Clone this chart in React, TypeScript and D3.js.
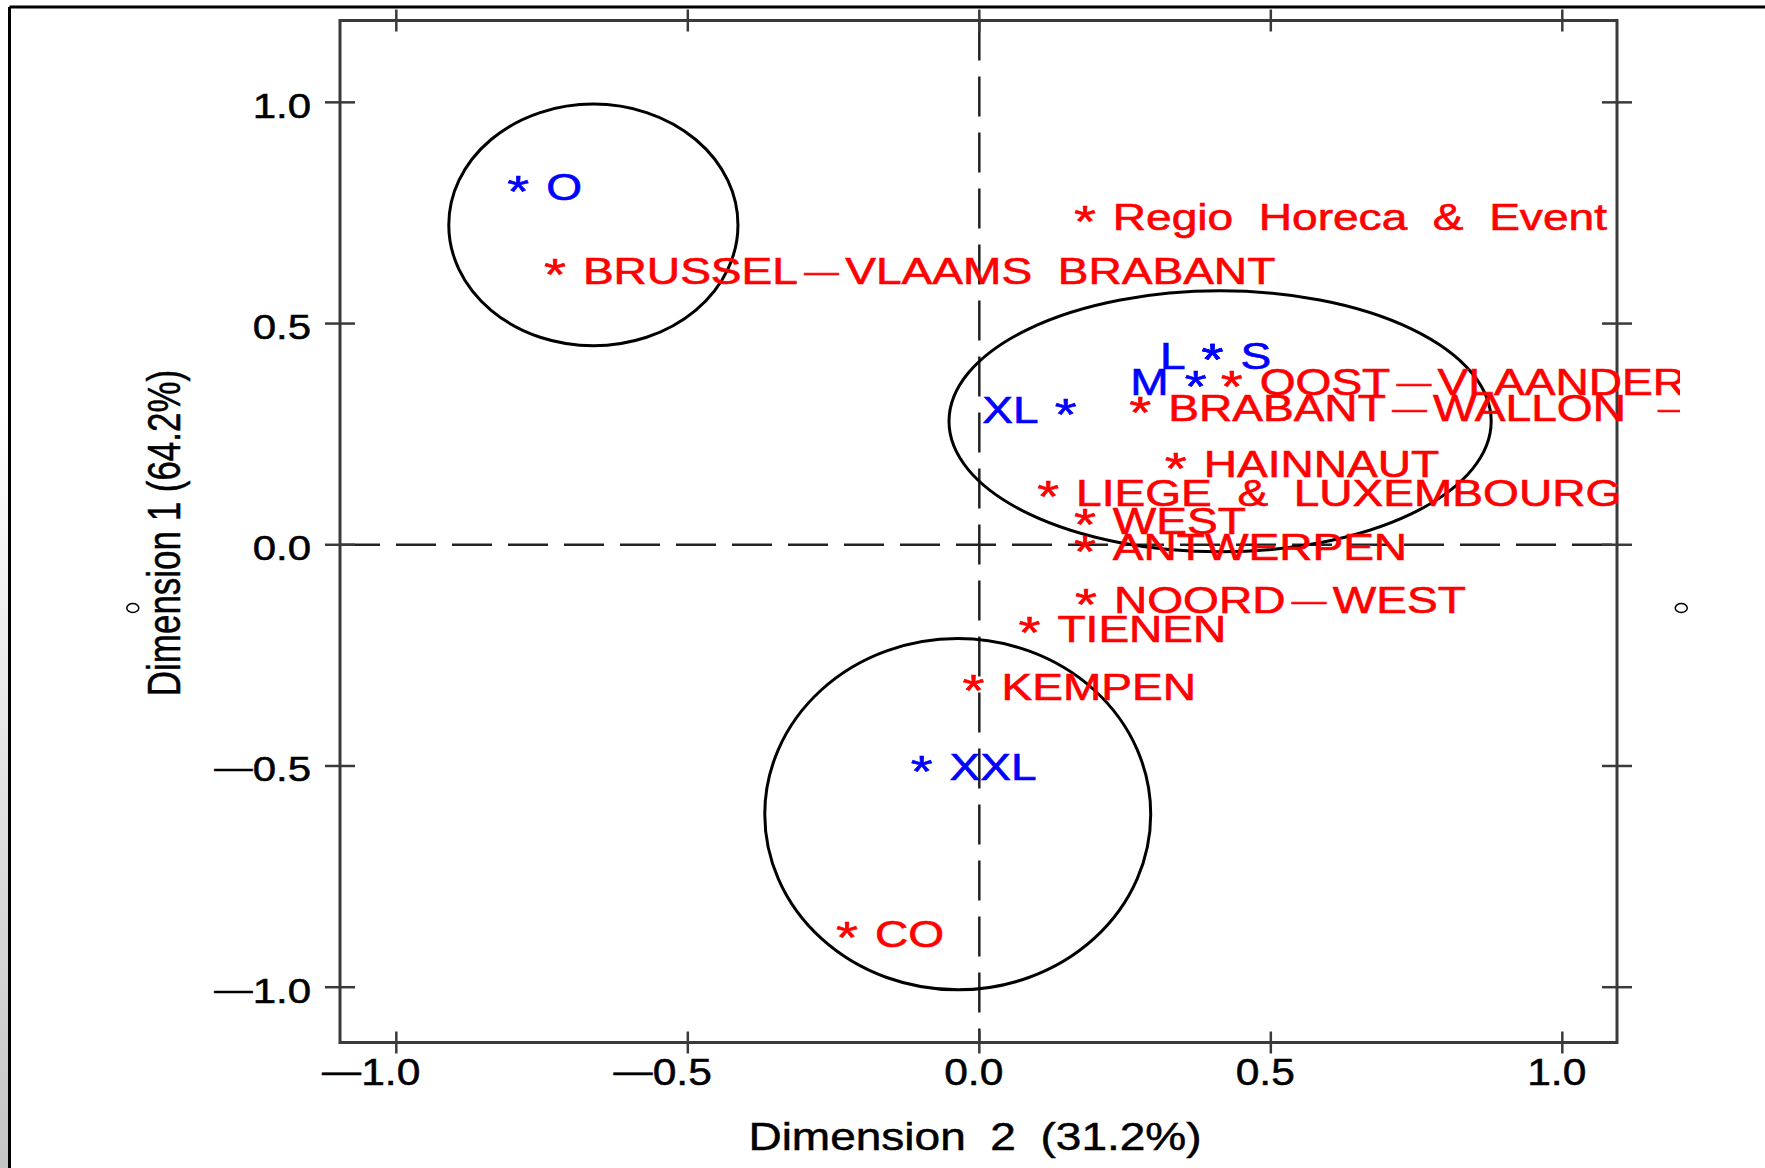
import React from "react";
import * as d3 from "d3";

// ---- data ----
const xTicks = [-1, -0.5, 0, 0.5, 1];
const yTicks = [-1, -0.5, 0, 0.5, 1];

const rowLabels = [
  "BRUSSEL—VLAAMS  BRABANT",
  "Regio  Horeca  &  Event",
  "OOST—VLAANDEREN",
  "BRABANT—WALLON  —  NAMUR",
  "HAINNAUT",
  "LIEGE  &  LUXEMBOURG",
  "WEST",
  "ANTWERPEN",
  "NOORD—WEST",
  "TIENEN",
  "KEMPEN",
  "CO",
];
const rowDim2 = [-0.728, 0.181, 0.433, 0.276, 0.337, 0.118, 0.181, 0.181, 0.183, 0.086, -0.010, -0.227];
const rowDim1 = [0.632, 0.753, 0.380, 0.321, 0.194, 0.130, 0.067, 0.007, -0.113, -0.177, -0.308, -0.867];

const colLabels = ["O", "L", "S", "M", "XL", "XXL"];
const colDim2 = [-0.791, 0.400, 0.400, 0.371, 0.148, -0.099];
const colDim1 = [0.820, 0.440, 0.440, 0.380, 0.316, -0.490];
const colLabelSide = ["right", "left", "right", "left", "left", "right"];

const ellipseCx = [-0.662, 0.413, -0.037];
const ellipseCy = [0.723, 0.279, -0.609];
const ellipseRx = [0.248, 0.465, 0.331];
const ellipseRy = [0.273, 0.295, 0.397];

const strayDim2 = [-1.452, 1.204];
const strayDim1 = [-0.143, -0.143];

const xTitle = "Dimension 2 (31.2%)";
const yTitle = "Dimension 1 (64.2%)";

// ---- layout ----
const W = 1765;
const H = 1168;
const FONT = "'Liberation Sans', Arial, Helvetica, sans-serif";
const SX = 1.28;
const RED = "#ff0000";
const BLUE = "#0000ff";
const AXIS = "#3a3a3a";

const x = d3.scaleLinear().domain([-1.0966, 1.0938]).range([340, 1617]);
const y = d3.scaleLinear().domain([-1.125, 1.185]).range([1042.5, 20.5]);
const fmt = d3.format(".1f");

function dashed(text: string) {
  const parts = text.split("—");
  const out: React.ReactNode[] = [];
  parts.forEach((p, i) => {
    if (i > 0) {
      out.push(
        <tspan key={"d" + i} fontSize={27} dx={5} dy={-3}>
          —
        </tspan>
      );
      out.push(
        <tspan key={"p" + i} dx={5} dy={3}>
          {p}
        </tspan>
      );
    } else {
      out.push(<tspan key={"p" + i}>{p}</tspan>);
    }
  });
  return out;
}

function PointLabel({ px, py, text, color, side }: { px: number; py: number; text: string; color: string; side: string }) {
  const lx = side === "right" ? px + 28 : px - 27;
  return (
    <g>
      <text
        transform={`translate(${px},${py + 25}) scale(${SX},1)`}
        textAnchor="middle"
        fontSize={44}
        fill={color}
        stroke={color}
        strokeWidth={0.6}
        fontFamily={FONT}
      >
        *
      </text>
      <text
        transform={`translate(${lx},${py + 18.5}) scale(${SX},1)`}
        textAnchor={side === "right" ? "start" : "end"}
        fontSize={36}
        fill={color}
        stroke={color}
        strokeWidth={0.6}
        fontFamily={FONT}
        style={{ whiteSpace: "pre" }}
      >
        {dashed(text)}
      </text>
    </g>
  );
}

export default function App() {
  const [x0, x1] = x.range();
  const [y0, y1] = y.range();
  const left = Math.min(x0, x1), right = Math.max(x0, x1);
  const top = Math.min(y0, y1), bottom = Math.max(y0, y1);

  return (
    <svg
      width={W}
      height={H}
      viewBox={`0 0 ${W} ${H}`}
      style={{ position: "absolute", left: 0, top: 0, display: "block", background: "#fff" }}
    >
      <defs>
        <linearGradient id="shade" x1="0" y1="0" x2="0" y2="1">
          <stop offset="0.35" stopColor="#ffffff" />
          <stop offset="1" stopColor="#c4c4c4" />
        </linearGradient>
        <clipPath id="clipLabels">
          <rect x={0} y={0} width={1680} height={H} />
        </clipPath>
      </defs>
      <rect x={0} y={0} width={W} height={H} fill="#fff" />
      <rect x={0} y={0} width={9} height={H} fill="url(#shade)" />
      {/* outer frame */}
      <line x1={9.5} y1={7} x2={W} y2={7} stroke="#000" strokeWidth={3} />
      <line x1={9.5} y1={7} x2={9.5} y2={H} stroke="#000" strokeWidth={3} />

      {/* reference dashed lines */}
      <line x1={x(0)} y1={top} x2={x(0)} y2={bottom} stroke="#222" strokeWidth={2.5} strokeDasharray="40 16" />
      <line x1={left} y1={y(0)} x2={right} y2={y(0)} stroke="#222" strokeWidth={2.5} strokeDasharray="40 16" />

      {/* plot box */}
      <rect x={left} y={top} width={right - left} height={bottom - top} fill="none" stroke={AXIS} strokeWidth={3} />
      {xTicks.map((t) => (
        <g key={"xt" + t}>
          <line x1={x(t)} x2={x(t)} y1={bottom - 11} y2={bottom + 11} stroke={AXIS} strokeWidth={2.5} />
          <line x1={x(t)} x2={x(t)} y1={top - 11} y2={top + 11} stroke={AXIS} strokeWidth={2.5} />
          <text
            transform={`translate(${x(t) + 24},${bottom + 42.5}) scale(1.15,1)`}
            textAnchor="end"
            fontSize={37}
            fill="#000"
            stroke="#000"
            strokeWidth={0.5}
            fontFamily={FONT}
          >
            {t < 0 ? <tspan fontSize={34} dy={-3}>—</tspan> : null}
            <tspan dy={t < 0 ? 3 : 0}>{fmt(Math.abs(t))}</tspan>
          </text>
        </g>
      ))}
      {yTicks.map((t) => (
        <g key={"yt" + t}>
          <line x1={left - 15} x2={left + 15} y1={y(t)} y2={y(t)} stroke={AXIS} strokeWidth={2.5} />
          <line x1={right - 15} x2={right + 15} y1={y(t)} y2={y(t)} stroke={AXIS} strokeWidth={2.5} />
          <text
            transform={`translate(311,${y(t) + 15.5}) scale(1.2,1)`}
            textAnchor="end"
            fontSize={35}
            fill="#000"
            stroke="#000"
            strokeWidth={0.5}
            fontFamily={FONT}
          >
            {t < 0 ? <tspan fontSize={32} dy={-3}>—</tspan> : null}
            <tspan dy={t < 0 ? 3 : 0}>{fmt(Math.abs(t))}</tspan>
          </text>
        </g>
      ))}

      {/* ellipses */}
      {ellipseCx.map((cx, i) => (
        <ellipse
          key={"el" + i}
          cx={x(cx)}
          cy={y(ellipseCy[i])}
          rx={x(cx + ellipseRx[i]) - x(cx)}
          ry={y(ellipseCy[i]) - y(ellipseCy[i] + ellipseRy[i])}
          fill="none"
          stroke="#000"
          strokeWidth={3}
        />
      ))}

      {/* points and labels */}
      <g clipPath="url(#clipLabels)">
        {rowLabels.map((lab, i) => (
          <PointLabel key={"r" + i} px={x(rowDim2[i])} py={y(rowDim1[i])} text={lab} color={RED} side="right" />
        ))}
        {colLabels.map((lab, i) => (
          <PointLabel key={"c" + i} px={x(colDim2[i])} py={y(colDim1[i])} text={lab} color={BLUE} side={colLabelSide[i]} />
        ))}
      </g>

      {/* stray small circles */}
      {strayDim2.map((d, i) => (
        <ellipse key={"s" + i} cx={x(d)} cy={y(strayDim1[i])} rx={6} ry={4.5} fill="none" stroke="#000" strokeWidth={1.5} />
      ))}

      {/* axis titles */}
      <text
        transform={`translate(975,1150) scale(1.18,1)`}
        textAnchor="middle"
        fontSize={39}
        fill="#000"
        stroke="#000"
        strokeWidth={0.5}
        fontFamily={FONT}
        style={{ wordSpacing: "10px" }}
      >
        {xTitle}
      </text>
      <text
        transform={`translate(180,533) rotate(-90) scale(0.76,1)`}
        textAnchor="middle"
        fontSize={46}
        fill="#000"
        stroke="#000"
        strokeWidth={0.5}
        fontFamily={FONT}
      >
        {yTitle}
      </text>
    </svg>
  );
}
